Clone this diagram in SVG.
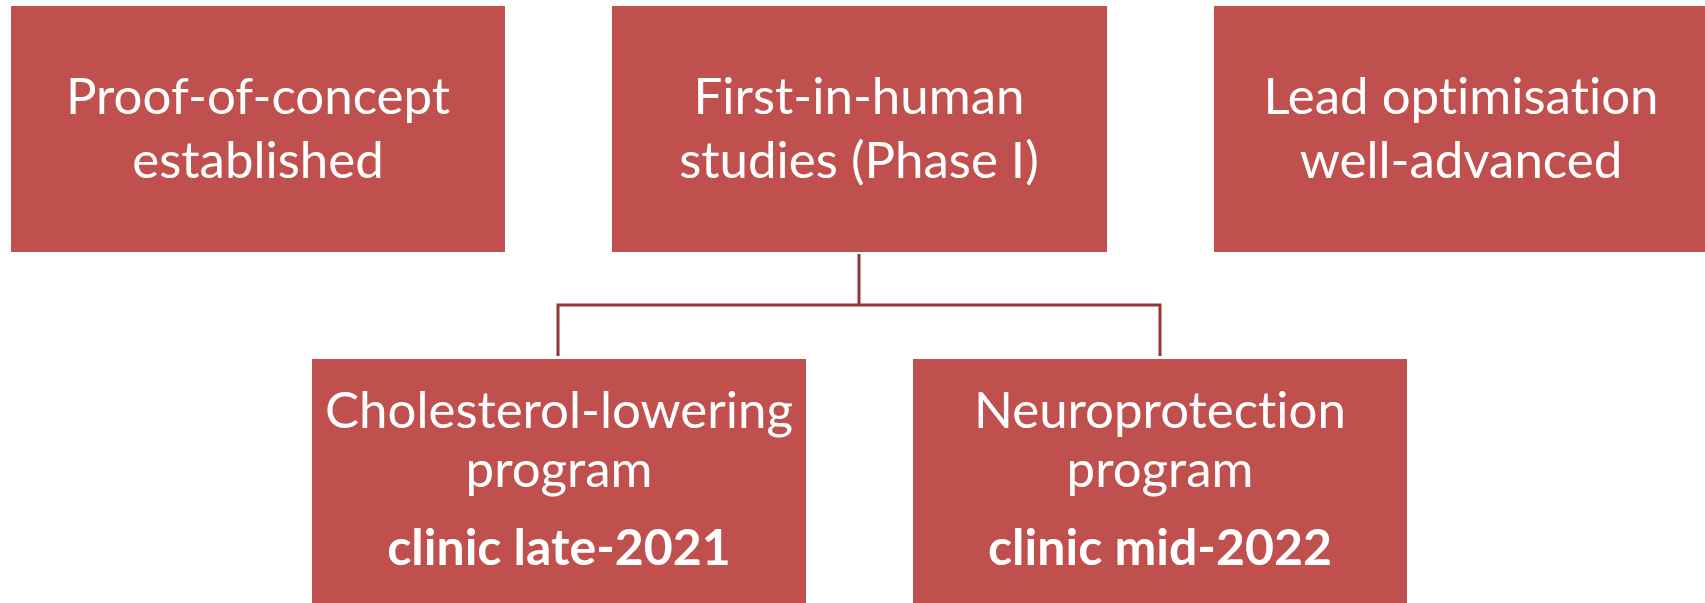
<svg xmlns="http://www.w3.org/2000/svg" width="1705" height="603" viewBox="0 0 1705 603">
<style>
.box{fill:#C0504D;}
.t{font-family:Lato,"Open Sans","Liberation Sans",sans-serif;font-size:51px;fill:#ffffff;text-anchor:middle;font-variant-ligatures:none;}
.b{font-weight:bold;font-size:50px;}
.conn{fill:none;stroke:#943634;stroke-width:3;}
</style>
<rect width="1705" height="603" fill="#ffffff"/>
<g id="connectors">
<path class="conn" d="M859,254 V305 M558,356 V305 H1160 V356"/>
</g>
<g id="node-poc">
<rect class="box" x="11" y="6" width="494" height="246"/>
<text class="t" x="258" y="114">Proof-of-concept</text>
<text class="t" x="258" y="178">established</text>
</g>
<g id="node-fih">
<rect class="box" x="612" y="6" width="495" height="246"/>
<text class="t" x="859" y="114">First-in-human</text>
<text class="t" x="859" y="178">studies (Phase I)</text>
</g>
<g id="node-lead">
<rect class="box" x="1214" y="6" width="491" height="246"/>
<text class="t" x="1461" y="114">Lead optimisation</text>
<text class="t" x="1461" y="178">well-advanced</text>
</g>
<g id="node-chol">
<rect class="box" x="312" y="359" width="494" height="244"/>
<text class="t" x="559" y="428">Cholesterol-lowering</text>
<text class="t" x="559" y="487">program</text>
<text class="t b" x="559" y="565">clinic late-2021</text>
</g>
<g id="node-neuro">
<rect class="box" x="913" y="359" width="494" height="244"/>
<text class="t" x="1160" y="428">Neuroprotection</text>
<text class="t" x="1160" y="487">program</text>
<text class="t b" x="1160" y="565">clinic mid-2022</text>
</g>
</svg>
